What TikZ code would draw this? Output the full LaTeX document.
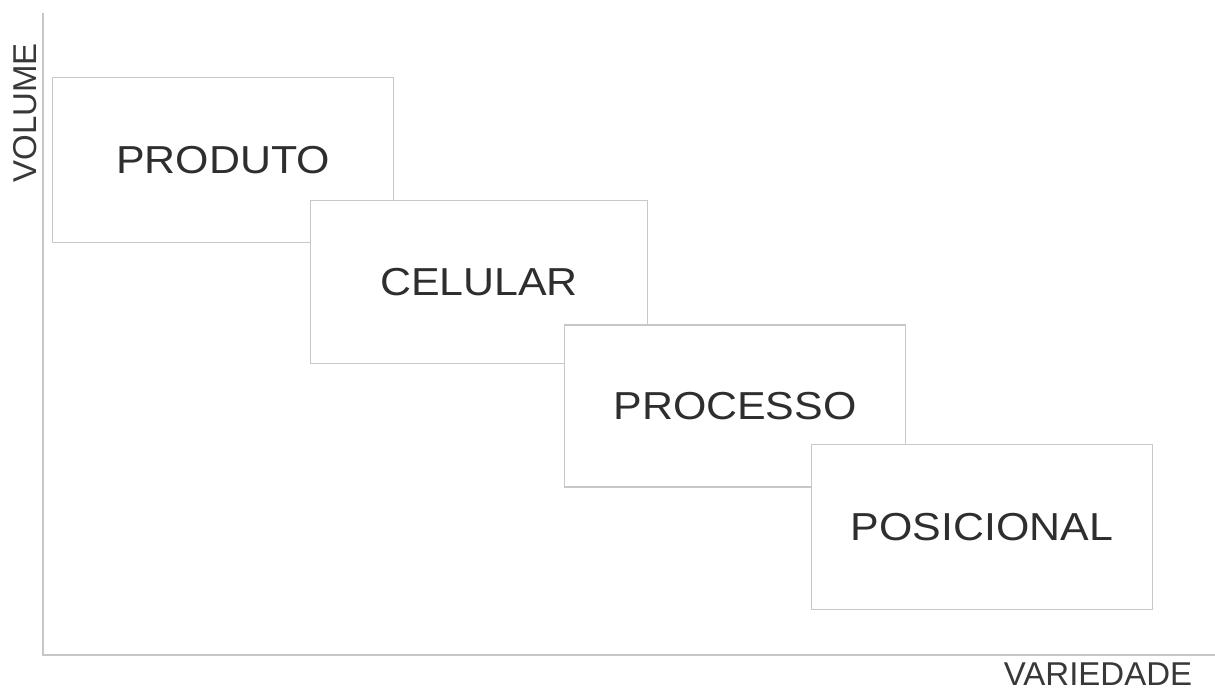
\documentclass[tikz,border=0pt]{standalone}
\usepackage{fontspec}
\setmainfont{Liberation Sans}
\newfontfamily\boxfont{Liberation Sans}[FakeStretch=1.1]
\begin{document}
\begin{tikzpicture}[x=1pt,y=-1pt,
  axisline/.style={draw=black!22,line width=1.3pt},
  layoutbox/.style={draw=black!22,line width=1.5pt,fill=white,rectangle,
    inner sep=0pt,text=black!82,font=\boxfont\fontsize{39}{39}\selectfont},
  axislabel/.style={text=black!78,inner sep=0pt,font=\fontsize{33}{33}\selectfont}]
  \useasboundingbox[fill=white] (0,0) rectangle (1215,690);
  % axes
  \coordinate (top) at (43,13);
  \coordinate (origin) at (43,655);
  \coordinate (right) at (1215,655);
  \draw[axisline] (top) -- (origin) -- (right);
  \node[axislabel,rotate=90] (vol) at (25,113) {VOLUME};
  \node[axislabel] (var) at (1098,674) {VARIEDADE};
  % layout types, each drawn over the previous one
  \node[layoutbox,minimum width=341pt,minimum height=165pt] (produto) at (223,160) {PRODUTO};
  \node[layoutbox,minimum width=337pt,minimum height=163pt] (celular) at (479,282) {CELULAR};
  \node[layoutbox,minimum width=341pt,minimum height=162pt] (processo) at (735,406) {PROCESSO};
  \node[layoutbox,minimum width=341pt,minimum height=165pt] (posicional) at (982,527) {POSICIONAL};
\end{tikzpicture}
\end{document}
